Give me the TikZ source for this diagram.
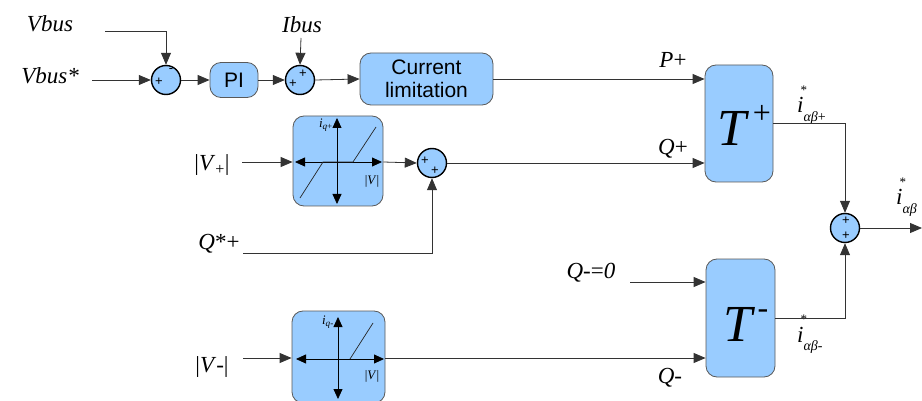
\documentclass[tikz,border=0pt]{standalone}
\usepackage{fontspec}
\setmainfont{Liberation Serif}
\setsansfont{Liberation Sans}
\usetikzlibrary{arrows.meta}
\definecolor{bfill}{RGB}{153,204,255}
\newcommand{\istr}[1]{\textit{i}\makebox[0pt][l]{\hspace{-3pt}\raisebox{0.8em}{\fontsize{13}{13}\selectfont *}}\raisebox{-0.36em}{\fontsize{14}{14}\selectfont #1}}
\begin{document}
\begin{tikzpicture}[x=1pt,y=-1pt,
  blk/.style={draw=black!65, fill=bfill, line width=0.8pt, rounded corners=11pt, inner sep=0pt},
  sumc/.style={circle, draw=black, line width=1.4pt, fill=bfill, minimum size=29pt, inner sep=0pt},
  lbl/.style={font=\fontsize{23}{23}\selectfont, inner sep=0pt, anchor=base},
  sgn/.style={font=\sffamily\fontsize{13}{13}\selectfont, inner sep=0pt},
  conn/.style={draw=black!80, line width=0.8pt},
  arr/.style={conn, -{Triangle[length=12pt,width=10pt]}},
  ax/.style={draw=black, line width=0.8pt, {Triangle[length=10pt,width=9pt]}-{Triangle[length=10pt,width=9pt]}},
  sat/.style={draw=black!85, line width=0.7pt},
  small/.style={font=\fontsize{13}{13}\selectfont, inner sep=0pt}
]
\useasboundingbox (0,0) rectangle (922,401);

% summing junctions
\node[sumc] (s1) at (166,80) {};
\node[sumc] (s2) at (300,80) {};
\node[sumc] (s3) at (432,163) {};
\node[sumc] (s4) at (845,228) {};
\node[sgn] at (159,82) {+};
\node[sgn] at (171,71) {-};
\node[sgn] at (293,84) {+};
\node[sgn] at (303,74) {+};
\node[sgn] at (425,161) {+};
\node[sgn] at (435,171) {+};
\node[sgn] at (846,221) {+};
\node[sgn] at (846,236) {+};

% blocks
\node[blk, minimum width=48pt, minimum height=35pt, font=\sffamily\fontsize{21}{21}\selectfont] (pi) at (234,80) {PI};
\node[blk, minimum width=133pt, minimum height=52pt, font=\sffamily\fontsize{21}{23}\selectfont, align=center] (cl) at (426.5,79) {Current\\limitation};
\node[blk, minimum width=68pt, minimum height=117pt] (tp) at (739,123.5) {};
\node[blk, minimum width=69pt, minimum height=118pt] (tm) at (740.5,318) {};
\node[blk, minimum width=90pt, minimum height=90pt] (l1) at (338,161) {};
\node[blk, minimum width=93pt, minimum height=92pt] (l2) at (338.5,357) {};

% T labels
\node[lbl, font=\itshape\fontsize{52}{52}\selectfont] at (732,146) {T};
\node[lbl, font=\fontsize{32}{32}\selectfont] at (762,124) {+};
\node[lbl, font=\itshape\fontsize{52}{52}\selectfont] at (738,341) {T};
\node[lbl, font=\fontsize{32}{32}\selectfont] at (763,318) {-};

% limiter + internals
\draw[ax] (337,118) -- (337,204);
\draw[ax] (295,162) -- (382,162);
\draw[sat] (300,198) -- (323,162) -- (353,162) -- (376,127);
\node[small, anchor=east] at (333,125) {\textit{i}\textsubscript{\textit{q}+}};
\node[small] at (372,181) {|\textit{V}|};

% limiter - internals
\draw[ax] (338,317) -- (338,399);
\draw[ax] (296,359) -- (384,359);
\draw[sat] (350,359) -- (373,323);
\node[small, anchor=east] at (334,322) {\textit{i}\textsubscript{\textit{q}-}};
\node[small] at (372,376) {|\textit{V}|};

% text labels
\node[lbl] at (50,32) {\textit{Vbus}};
\node[lbl] at (50,84) {\textit{Vbus*}};
\node[lbl] at (302,33) {\textit{Ibus}};
\node[lbl] at (673,68) {\textit{P}+};
\node[lbl] at (673,155) {\textit{Q}+};
\node[lbl] at (212,171) {|\textit{V}\textsubscript{+}|};
\node[lbl] at (219,250) {\textit{Q}*+};
\node[lbl] at (212,372) {|\textit{V}-|};
\node[lbl] at (591,278) {\textit{Q}-=\textit{0}};
\node[lbl] at (670,383) {\textit{Q}-};
\node[lbl, anchor=base west] at (797,113) {\istr{\textit{αβ}+}};
\node[lbl, anchor=base west] at (896,205) {\istr{\textit{αβ}}};
\node[lbl, anchor=base west] at (797,342) {\istr{\textit{αβ}-}};

% free ends
\coordinate (cvbus) at (105,31);
\coordinate (cvref) at (92,80);
\coordinate (cibus) at (301,38);
\coordinate (cvp) at (242,162);
\coordinate (cqs) at (243,253);
\coordinate (cvm) at (243,358);
\coordinate (cq0) at (630,282);
\coordinate (cout) at (922,228);

% connectors
\draw[arr] (cvbus) -| (s1.north);
\draw[arr] (cvref) -- (s1.west);
\draw[arr] (s1.east) -- (pi.west);
\draw[arr] (pi.east) -- (s2.west);
\draw[arr] (cibus) -- (s2.north);
\draw[arr] (s2.east) -- (cl.west);
\draw[arr] (cl.east) -- (tp.west |- cl.east);
\draw[arr] (cvp) -- (l1.west |- cvp);
\draw[arr] (l1.east |- cvp) -- (s3.west);
\draw[arr] (cqs) -| (s3.south);
\draw[arr] (s3.east) -- (tp.west |- s3.east);
\draw[arr] (tp.east |- 0,123) -| (s4.north);
\draw[arr] (tm.east) -| (s4.south);
\draw[arr] (s4.east) -- (cout);
\draw[arr] (cq0) -- (tm.west |- cq0);
\draw[arr] (cvm) -- (l2.west |- cvm);
\draw[arr] (l2.east |- cvm) -- (tm.west |- cvm);
\end{tikzpicture}
\end{document}
